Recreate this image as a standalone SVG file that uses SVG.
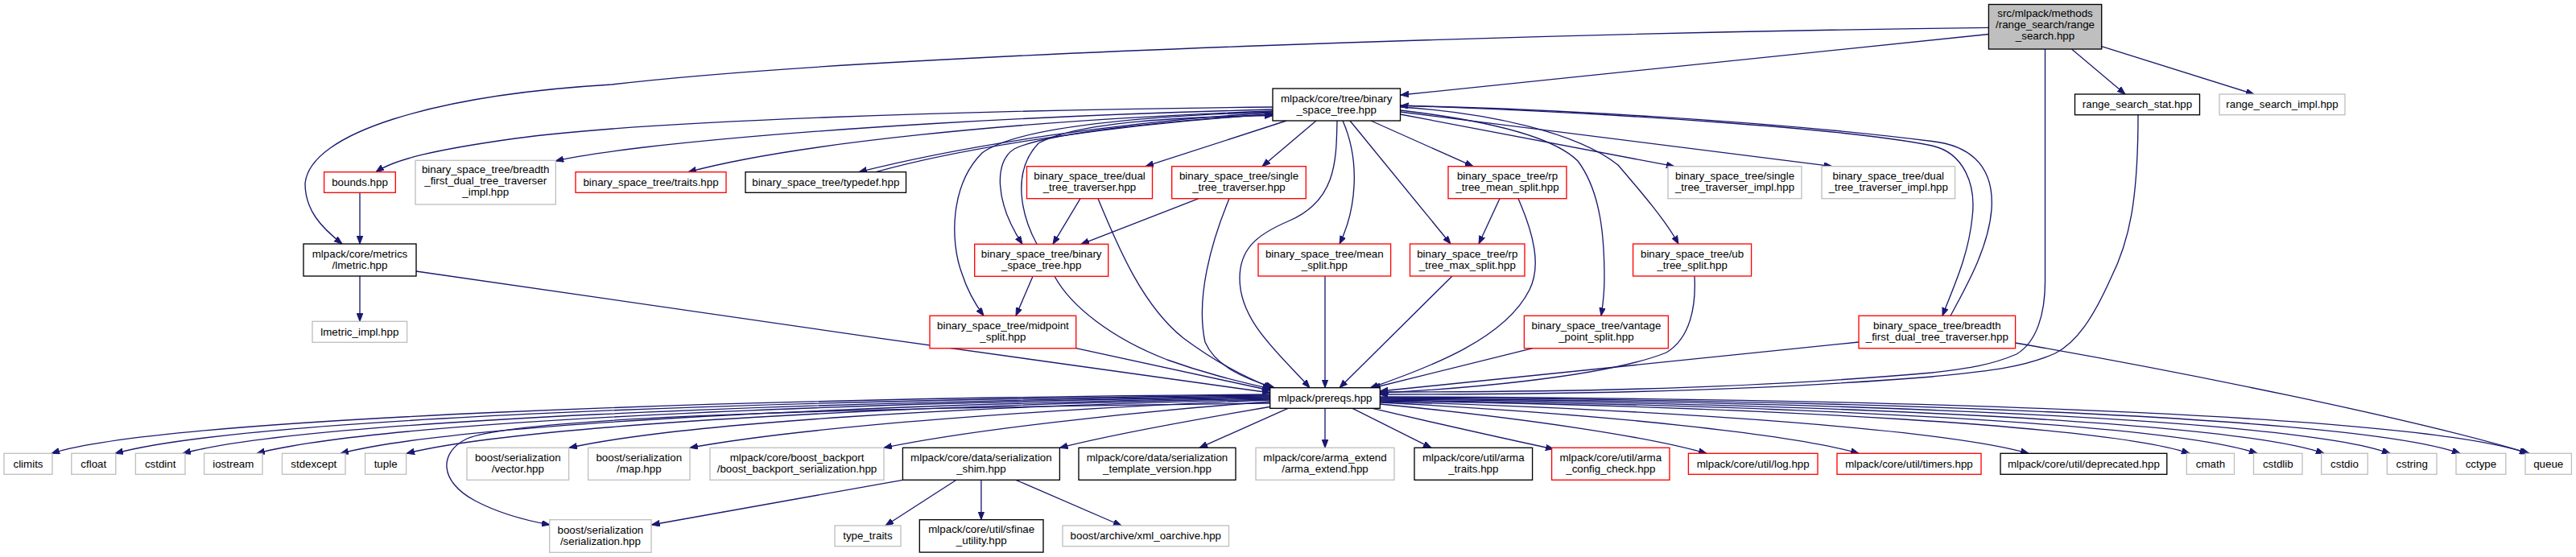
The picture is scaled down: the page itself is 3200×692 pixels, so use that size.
<svg xmlns="http://www.w3.org/2000/svg" width="3200" height="692" viewBox="0 0 3200 692">
<defs>
<style>
rect{stroke-width:1.33}
.k{fill:#fff;stroke:#000}
.r{fill:#fff;stroke:#ff0000}
.g{fill:#fff;stroke:#bfbfbf}
.root{fill:#bfbfbf;stroke:#000}
text{font-family:"Liberation Sans",Arial,Helvetica,sans-serif;font-size:13.33px;fill:#000;text-anchor:middle}
#edges path{fill:none;stroke:#191970;stroke-width:1.33;marker-end:url(#a)}
</style>
<marker id="a" markerWidth="11" markerHeight="8" refX="10" refY="3.75" orient="auto" markerUnits="userSpaceOnUse"><path d="M0,0 L10,3.75 L0,7.5 z" fill="#191970" stroke="#191970" stroke-width="1"/></marker>
</defs>
<rect width="3200" height="692" fill="#fff"/>
<g id="edges">
<path d="M2470.4,34.3 C2000,40 1100,65 760,105 C540,118 385,165 379,228 C379,262 400,283 425,303"/>
<path d="M2470.4,42.5 L1740,118"/>
<path d="M2573.5,61 L2640,117"/>
<path d="M2610.7,57.7 L2800,117"/>
<path d="M2540.5,61 L2540.5,346 C2541,390 2530,425 2505,440 C2470,455 2440,458 2400,463 C2150,485 1900,487 1714.3,487"/>
<path d="M2656,142.7 C2656,250 2645,300 2622,346 C2600,395 2580,425 2553,439 C2510,458 2460,462 2400,468 C2150,488 1900,490 1714.3,490"/>
<path d="M1581,133 C1200,137 800,150 640,172 C540,186 490,198 467,213.7"/>
<path d="M1581,136 C1300,143 1000,160 800,183 C750,189 715,194 690.3,200"/>
<path d="M1581,138 C1250,150 980,180 855,213.7"/>
<path d="M1581,140 C1400,150 1200,180 1067,213.7"/>
<path d="M1088,213.7 C1200,182 1400,153 1581,142"/>
<path d="M1581,142 C1450,150 1300,165 1260,185 C1235,200 1235,250 1270,303.3"/>
<path d="M1288,303.3 C1270,270 1255,215 1290,178 C1340,150 1480,145 1581,143.5"/>
<path d="M1581,139 C1400,145 1260,160 1220,190 C1180,230 1180,300 1195,340 C1203,365 1213,380 1222,392.3"/>
<path d="M1598,150 L1423,206.7"/>
<path d="M1635,150 L1568,206.7"/>
<path d="M1342,246.7 L1308,303.3"/>
<path d="M1489,246.7 L1343,303.3"/>
<path d="M1364,246.7 C1390,310 1420,380 1470,420 C1510,450 1550,470 1580,482"/>
<path d="M1527,246.7 C1505,300 1485,370 1497,425 C1510,455 1545,470 1583,481.7"/>
<path d="M1661,150 C1660,200 1660,250 1600,275 C1560,292 1540,310 1540,346 C1540,400 1590,440 1627,481.7"/>
<path d="M1668,150 C1690,200 1685,260 1664,303"/>
<path d="M1677,150 L1802,303"/>
<path d="M1703,150 L1830,206.7"/>
<path d="M1739.5,142 L2080,206.7"/>
<path d="M1739.5,139 L2276,206.7"/>
<path d="M1739.5,137 C1850,150 1930,170 1960,200 C1990,240 1993,300 1993,346 C1993,365 1991,380 1989,392.3"/>
<path d="M1739.5,133 C1850,140 1960,165 2010,205 C2040,240 2070,275 2085,303"/>
<path d="M1739.5,131 C2000,140 2300,160 2400,181 C2440,190 2455,230 2450,270 C2445,320 2425,360 2413,392.3"/>
<path d="M2423,392.3 C2440,360 2470,310 2474,260 C2478,200 2440,180 2400,175.5 C2200,150 1900,134 1739.5,131.5"/>
<path d="M1863,246.7 L1837,303"/>
<path d="M1886,246.7 C1905,290 1915,330 1900,360 C1870,420 1780,455 1702,482"/>
<path d="M1283,343.3 L1262,392.3"/>
<path d="M1310,343.3 C1330,380 1380,420 1450,447 C1500,465 1540,474 1578,483"/>
<path d="M1336.7,432.7 L1578,485"/>
<path d="M517,337 C700,365 1300,450 1578,488"/>
<path d="M1646,343 L1646,481.7"/>
<path d="M1804,343 L1664,481.7"/>
<path d="M2105,343 C2107,380 2100,420 2070,438 C1990,470 1800,484 1714.3,488"/>
<path d="M1904,432.7 L1705,482"/>
<path d="M2309,425 L1714.3,486"/>
<path d="M2503.6,426 C2700,460 3000,520 3142,563.3"/>
<path d="M447,239.3 L447,303"/>
<path d="M447,343 L447,399.3"/>
<path d="M1578,490 C900,495 200,520 64,563.3"/>
<path d="M1578,491 C950,497 300,520 143,563.3"/>
<path d="M1578,492 C1000,499 380,522 227,563.3"/>
<path d="M1578,493 C1050,500 470,523 319,563.3"/>
<path d="M1578,494 C1100,502 570,525 423,563.3"/>
<path d="M1578,495 C1150,503 650,527 505,563.3"/>
<path d="M1578,496 C1200,505 850,525 707,556.3"/>
<path d="M1578,497 C1300,508 1000,530 857,556.3"/>
<path d="M1578,499 C1400,512 1200,535 1098,556.3"/>
<path d="M1578,501 C1150,506 650,515 580,545 C545,562 545,598 590,622 C620,638 650,646 683,652"/>
<path d="M1580,505 C1480,522 1380,540 1316.4,556.3"/>
<path d="M1600,507.3 L1490,556.3"/>
<path d="M1646,507.3 L1646,556.3"/>
<path d="M1680,507.3 L1778,556.3"/>
<path d="M1705,507.3 C1780,525 1870,545 1930,558"/>
<path d="M1714.3,502 C1900,520 2050,543 2120,563.3"/>
<path d="M1714.3,500 C2000,515 2230,540 2309,563.3"/>
<path d="M1714.3,499 C2100,510 2420,535 2520,563.3"/>
<path d="M1714.3,498 C2200,505 2620,530 2720,563.3"/>
<path d="M1714.3,497 C2250,503 2700,528 2804,563.3"/>
<path d="M1714.3,496 C2300,501 2780,526 2887,563.3"/>
<path d="M1714.3,495 C2350,499 2860,524 2969,563.3"/>
<path d="M1714.3,494 C2400,497 2940,522 3056,563.3"/>
<path d="M1714.3,493 C2450,495 3020,520 3140,563.3"/>
<path d="M1121.4,596.3 L809.5,652"/>
<path d="M1188,596.3 L1100,653"/>
<path d="M1218.9,596.3 L1218.9,645.7"/>
<path d="M1262,596.3 L1393,653"/>
</g>
<g id="n_root"><rect class="root" x="2470.4" y="5.5" width="140.3" height="55.5"/><text x="2540.5" y="21.3">src/mlpack/methods</text><text x="2540.5" y="35.3">/range_search/range</text><text x="2540.5" y="49.3">_search.hpp</text></g>
<g id="n_bst"><rect class="k" x="1581" y="110" width="158.5" height="40"/><text x="1660.2" y="126.5">mlpack/core/tree/binary</text><text x="1660.2" y="140.5">_space_tree.hpp</text></g>
<g id="n_rs_stat"><rect class="k" x="2577.5" y="117" width="155" height="25.7"/><text x="2655" y="134">range_search_stat.hpp</text></g>
<g id="n_rs_impl"><rect class="g" x="2757" y="117" width="156" height="25.7"/><text x="2835" y="134">range_search_impl.hpp</text></g>
<g id="n_bounds"><rect class="r" x="402.6" y="213.7" width="88.7" height="25.6"/><text x="447" y="230.7">bounds.hpp</text></g>
<g id="n_bf_impl"><rect class="g" x="516" y="199.3" width="174.3" height="54.7"/><text x="603.2" y="214.7">binary_space_tree/breadth</text><text x="603.2" y="228.7">_first_dual_tree_traverser</text><text x="603.2" y="242.7">_impl.hpp</text></g>
<g id="n_traits"><rect class="r" x="715" y="213.7" width="187" height="25.6"/><text x="808.5" y="230.7">binary_space_tree/traits.hpp</text></g>
<g id="n_typedef"><rect class="k" x="926" y="213.7" width="199.5" height="25.6"/><text x="1025.8" y="230.7">binary_space_tree/typedef.hpp</text></g>
<g id="n_dual_trav"><rect class="r" x="1275.5" y="206.7" width="156" height="40"/><text x="1353.5" y="223.2">binary_space_tree/dual</text><text x="1353.5" y="237.2">_tree_traverser.hpp</text></g>
<g id="n_single_trav"><rect class="r" x="1455.7" y="206.7" width="166.6" height="40"/><text x="1539" y="223.2">binary_space_tree/single</text><text x="1539" y="237.2">_tree_traverser.hpp</text></g>
<g id="n_rp_mean"><rect class="r" x="1799" y="206.7" width="147" height="40"/><text x="1872.5" y="223.2">binary_space_tree/rp</text><text x="1872.5" y="237.2">_tree_mean_split.hpp</text></g>
<g id="n_single_impl"><rect class="g" x="2072" y="206.7" width="166" height="40"/><text x="2155" y="223.2">binary_space_tree/single</text><text x="2155" y="237.2">_tree_traverser_impl.hpp</text></g>
<g id="n_dual_impl"><rect class="g" x="2263" y="206.7" width="165.6" height="40"/><text x="2345.8" y="223.2">binary_space_tree/dual</text><text x="2345.8" y="237.2">_tree_traverser_impl.hpp</text></g>
<g id="n_lmetric"><rect class="k" x="377" y="303" width="140" height="40"/><text x="447" y="319.5">mlpack/core/metrics</text><text x="447" y="333.5">/lmetric.hpp</text></g>
<g id="n_bstbst"><rect class="r" x="1210.7" y="303.3" width="166" height="40"/><text x="1293.7" y="319.8">binary_space_tree/binary</text><text x="1293.7" y="333.8">_space_tree.hpp</text></g>
<g id="n_mean_split"><rect class="r" x="1563" y="303" width="164.6" height="40"/><text x="1645.3" y="319.5">binary_space_tree/mean</text><text x="1645.3" y="333.5">_split.hpp</text></g>
<g id="n_rp_max"><rect class="r" x="1751.5" y="303" width="142.5" height="40"/><text x="1822.8" y="319.5">binary_space_tree/rp</text><text x="1822.8" y="333.5">_tree_max_split.hpp</text></g>
<g id="n_ub_split"><rect class="r" x="2028.6" y="303" width="147" height="40"/><text x="2102.1" y="319.5">binary_space_tree/ub</text><text x="2102.1" y="333.5">_tree_split.hpp</text></g>
<g id="n_lmetric_impl"><rect class="g" x="388" y="399.3" width="117.6" height="26"/><text x="446.8" y="416.5">lmetric_impl.hpp</text></g>
<g id="n_midpoint"><rect class="r" x="1155" y="392.3" width="181.7" height="40.4"/><text x="1245.9" y="409">binary_space_tree/midpoint</text><text x="1245.9" y="423">_split.hpp</text></g>
<g id="n_vantage"><rect class="r" x="1893.4" y="392.3" width="179" height="40.4"/><text x="1982.9" y="409">binary_space_tree/vantage</text><text x="1982.9" y="423">_point_split.hpp</text></g>
<g id="n_bf_dual"><rect class="r" x="2309" y="392.3" width="194.6" height="40.4"/><text x="2406.3" y="409">binary_space_tree/breadth</text><text x="2406.3" y="423">_first_dual_tree_traverser.hpp</text></g>
<g id="n_prereqs"><rect class="k" x="1577.7" y="481.7" width="136.6" height="25.6"/><text x="1646" y="498.7">mlpack/prereqs.hpp</text></g>
<g id="n_climits"><rect class="g" x="5" y="563.3" width="60" height="26"/><text x="35" y="580.5">climits</text></g>
<g id="n_cfloat"><rect class="g" x="88.8" y="563.3" width="55" height="26"/><text x="116.3" y="580.5">cfloat</text></g>
<g id="n_cstdint"><rect class="g" x="168.4" y="563.3" width="61.6" height="26"/><text x="199.2" y="580.5">cstdint</text></g>
<g id="n_iostream"><rect class="g" x="253.6" y="563.3" width="72.4" height="26"/><text x="289.8" y="580.5">iostream</text></g>
<g id="n_stdexcept"><rect class="g" x="350.5" y="563.3" width="78.5" height="26"/><text x="389.8" y="580.5">stdexcept</text></g>
<g id="n_tuple"><rect class="g" x="453.6" y="563.3" width="51" height="26"/><text x="479.1" y="580.5">tuple</text></g>
<g id="n_vector"><rect class="g" x="580" y="556.3" width="126.6" height="40"/><text x="643.3" y="572.8">boost/serialization</text><text x="643.3" y="586.8">/vector.hpp</text></g>
<g id="n_map"><rect class="g" x="730.6" y="556.3" width="126.4" height="40"/><text x="793.8" y="572.8">boost/serialization</text><text x="793.8" y="586.8">/map.hpp</text></g>
<g id="n_backport"><rect class="g" x="882" y="556.3" width="216" height="40"/><text x="990" y="572.8">mlpack/core/boost_backport</text><text x="990" y="586.8">/boost_backport_serialization.hpp</text></g>
<g id="n_shim"><rect class="k" x="1121.4" y="556.3" width="195" height="40"/><text x="1218.9" y="572.8">mlpack/core/data/serialization</text><text x="1218.9" y="586.8">_shim.hpp</text></g>
<g id="n_template_version"><rect class="k" x="1340" y="556.3" width="195" height="40"/><text x="1437.5" y="572.8">mlpack/core/data/serialization</text><text x="1437.5" y="586.8">_template_version.hpp</text></g>
<g id="n_arma_extend"><rect class="g" x="1560" y="556.3" width="172" height="40"/><text x="1646" y="572.8">mlpack/core/arma_extend</text><text x="1646" y="586.8">/arma_extend.hpp</text></g>
<g id="n_arma_traits"><rect class="k" x="1757" y="556.3" width="146.6" height="40"/><text x="1830.3" y="572.8">mlpack/core/util/arma</text><text x="1830.3" y="586.8">_traits.hpp</text></g>
<g id="n_arma_config"><rect class="r" x="1927.6" y="556.3" width="146.4" height="40"/><text x="2000.8" y="572.8">mlpack/core/util/arma</text><text x="2000.8" y="586.8">_config_check.hpp</text></g>
<g id="n_log"><rect class="r" x="2097.4" y="563.3" width="160.6" height="26"/><text x="2177.7" y="580.5">mlpack/core/util/log.hpp</text></g>
<g id="n_timers"><rect class="r" x="2282" y="563.3" width="179" height="26"/><text x="2371.5" y="580.5">mlpack/core/util/timers.hpp</text></g>
<g id="n_deprecated"><rect class="k" x="2485" y="563.3" width="206.8" height="26"/><text x="2588.4" y="580.5">mlpack/core/util/deprecated.hpp</text></g>
<g id="n_cmath"><rect class="g" x="2716.3" y="563.3" width="59.2" height="26"/><text x="2745.9" y="580.5">cmath</text></g>
<g id="n_cstdlib"><rect class="g" x="2799.5" y="563.3" width="60.5" height="26"/><text x="2829.8" y="580.5">cstdlib</text></g>
<g id="n_cstdio"><rect class="g" x="2883.7" y="563.3" width="57.6" height="26"/><text x="2912.5" y="580.5">cstdio</text></g>
<g id="n_cstring"><rect class="g" x="2965.3" y="563.3" width="61.7" height="26"/><text x="2996.2" y="580.5">cstring</text></g>
<g id="n_cctype"><rect class="g" x="3051" y="563.3" width="61.8" height="26"/><text x="3081.9" y="580.5">cctype</text></g>
<g id="n_queue"><rect class="g" x="3137" y="563.3" width="57.4" height="26"/><text x="3165.7" y="580.5">queue</text></g>
<g id="n_serialization"><rect class="g" x="682.7" y="645.7" width="126.3" height="40.6"/><text x="745.9" y="662.5">boost/serialization</text><text x="745.9" y="676.5">/serialization.hpp</text></g>
<g id="n_type_traits"><rect class="g" x="1037" y="653" width="82" height="25.7"/><text x="1078" y="670">type_traits</text></g>
<g id="n_sfinae"><rect class="k" x="1142.3" y="645.7" width="153.7" height="40.4"/><text x="1219.2" y="662.4">mlpack/core/util/sfinae</text><text x="1219.2" y="676.4">_utility.hpp</text></g>
<g id="n_xml"><rect class="g" x="1320" y="653" width="206.5" height="25.7"/><text x="1423.3" y="670">boost/archive/xml_oarchive.hpp</text></g>
</svg>
